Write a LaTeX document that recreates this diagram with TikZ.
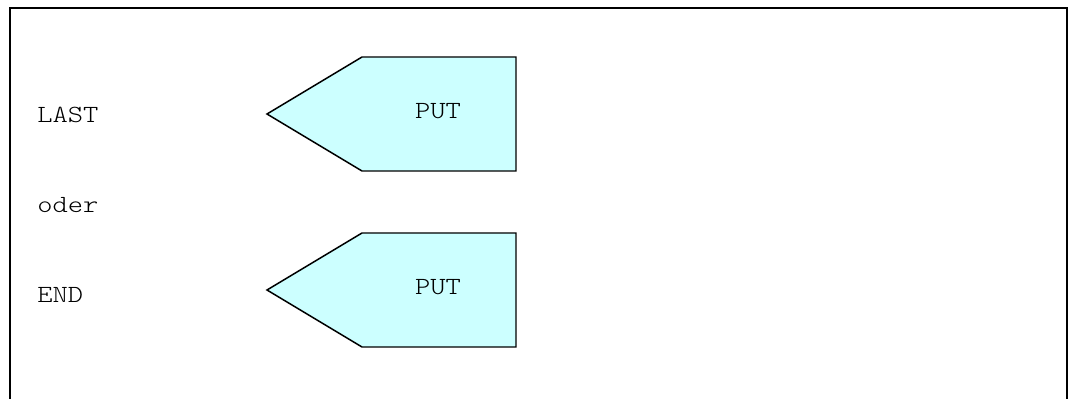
\documentclass[tikz,border=0pt]{standalone}
\definecolor{putfill}{HTML}{CCFFFF}
\newcommand{\widetext}[1]{\scalebox{1.18}[1]{#1}}
\tikzset{
  lbl/.style={anchor=base west, inner sep=0pt, font=\ttfamily\fontseries{l}\fontsize{18.5}{22}\selectfont},
  putlbl/.style={anchor=base, inner sep=0pt, font=\ttfamily\fontseries{l}\fontsize{18.5}{22}\selectfont},
  putshape/.style={draw=black, fill=putfill, line width=1.1pt, line join=miter},
  frame/.style={draw=black, line width=2pt}
}
\begin{document}
\begin{tikzpicture}[x=0.75pt,y=-0.75pt]
\useasboundingbox (0,0) rectangle (1076,399);
\draw[frame] (10,405) -- (10,8) -- (1067,8) -- (1067,405);
% first PUT
\draw[putshape] (267,114) -- (362,57) -- (516,57) -- (516,171) -- (362,171) -- cycle;
\node[putlbl] (put1) at (438,119) {\widetext{PUT}};
% second PUT
\draw[putshape] (267,290) -- (362,233) -- (516,233) -- (516,347) -- (362,347) -- cycle;
\node[putlbl] (put2) at (438,295) {\widetext{PUT}};
\node[lbl] (last) at (37,123) {\widetext{LAST}};
\node[lbl] (oder) at (37,213) {\widetext{oder}};
\node[lbl] (end) at (37,303) {\widetext{END}};
\end{tikzpicture}
\end{document}
